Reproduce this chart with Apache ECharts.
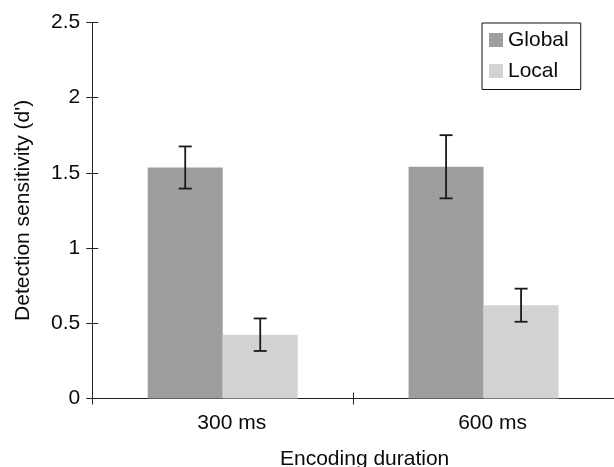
<!DOCTYPE html>
<html>
<head>
<meta charset="UTF-8" />
<title>Detection sensitivity</title>
<script src="https://cdn.jsdelivr.net/npm/echarts@6/dist/echarts.min.js"></script>
<style type="text/css">
html, body { margin:0; padding:0; background:#fff; }
#main { width:614px; height:467px; }
</style>
</head>
<body>
<div id="main"></div>
<script type="text/javascript">
// values (d', mean and error)
var durations = ['300 ms', '600 ms'];
var globalMean = [1.535, 1.54];
var globalErr = [0.14, 0.21];
var localMean = [0.424, 0.62];
var localErr = [0.108, 0.11];
var yMin = 0, yMax = 2.5, yStep = 0.5;

var BAR_W = 75;
var FONT = "'Liberation Sans', Arial, sans-serif";
var INK = '#0a0a0a';

// I-beam error bar, shifted onto its bar inside the group
function errorBars(shift) {
  return function (params, api) {
    var c = api.value(0);
    var top = api.coord([c, api.value(1) + api.value(2)]);
    var bot = api.coord([c, api.value(1) - api.value(2)]);
    var x = top[0] + shift;
    var st = { stroke: '#1a1a1a', lineWidth: 1.8 };
    return {
      type: 'group',
      children: [
        { type: 'line', shape: { x1: x, y1: top[1], x2: x, y2: bot[1] }, style: st },
        { type: 'line', shape: { x1: x - 6.5, y1: top[1], x2: x + 6.5, y2: top[1] }, style: st },
        { type: 'line', shape: { x1: x - 6.5, y1: bot[1], x2: x + 6.5, y2: bot[1] }, style: st }
      ]
    };
  };
}

function errData(mean, err) {
  return durations.map(function (d, i) { return [i, mean[i], err[i]]; });
}

var myChart = echarts.init(document.getElementById('main'));

myChart.setOption({
  animation: false,
  textStyle: { fontFamily: FONT, color: INK },
  grid: { left: 92.3, right: 0, top: 22.3, bottom: 68.5, containLabel: false, outerBoundsMode: 'none' },
  legend: {
    data: ['Global', 'Local'],
    orient: 'vertical',
    left: 482,
    top: 23,
    padding: [6.5, 12, 8, 7],
    itemGap: 10,
    itemWidth: 14,
    itemHeight: 14,
    icon: 'rect',
    borderColor: '#111',
    borderWidth: 1,
    borderRadius: 0,
    textStyle: { fontSize: 21, color: INK, fontFamily: FONT }
  },
  xAxis: [{
    type: 'category',
    data: durations,
    position: 'bottom',
    axisLine: { lineStyle: { color: '#222', width: 1 } },
    axisTick: { show: true, length: 6, lineStyle: { color: '#222' } },
    axisLabel: { fontSize: 21, color: INK, margin: 14, padding: [0, 0, 0, 18] },
    name: 'Encoding duration',
    nameLocation: 'middle',
    nameGap: 50,
    nameTextStyle: { fontSize: 21, color: INK, padding: [0, 0, 0, 23] }
  }, {
    type: 'category',
    data: durations,
    position: 'bottom',
    axisLine: { show: false },
    axisLabel: { show: false },
    axisTick: { show: true, inside: true, length: 6, lineStyle: { color: '#222' } }
  }],
  yAxis: [{
    type: 'value',
    min: yMin, max: yMax, interval: yStep,
    position: 'left',
    splitLine: { show: false },
    axisLine: { show: true, lineStyle: { color: '#222', width: 1 } },
    axisTick: { show: true, length: 6, lineStyle: { color: '#222' } },
    axisLabel: { fontSize: 21, color: INK, margin: 12 },
    name: "Detection sensitivity (d')",
    nameLocation: 'middle',
    nameGap: 59,
    nameTextStyle: { fontSize: 21, color: INK }
  }, {
    type: 'value',
    min: yMin, max: yMax, interval: yStep,
    position: 'left',
    splitLine: { show: false },
    axisLine: { show: false },
    axisLabel: { show: false },
    axisTick: { show: true, inside: true, length: 6, lineStyle: { color: '#222' } }
  }],
  series: [{
    name: 'Global',
    type: 'bar',
    data: globalMean,
    barWidth: BAR_W,
    barGap: '0%',
    itemStyle: { color: '#9e9e9e' }
  }, {
    name: 'Local',
    type: 'bar',
    data: localMean,
    barWidth: BAR_W,
    barGap: '0%',
    itemStyle: { color: '#d3d3d3' }
  }, {
    type: 'custom',
    z: 5,
    encode: { x: 0, y: 1 },
    renderItem: errorBars(-BAR_W / 2),
    data: errData(globalMean, globalErr)
  }, {
    type: 'custom',
    z: 5,
    encode: { x: 0, y: 1 },
    renderItem: errorBars(BAR_W / 2),
    data: errData(localMean, localErr)
  }]
});
</script>
</body>
</html>
